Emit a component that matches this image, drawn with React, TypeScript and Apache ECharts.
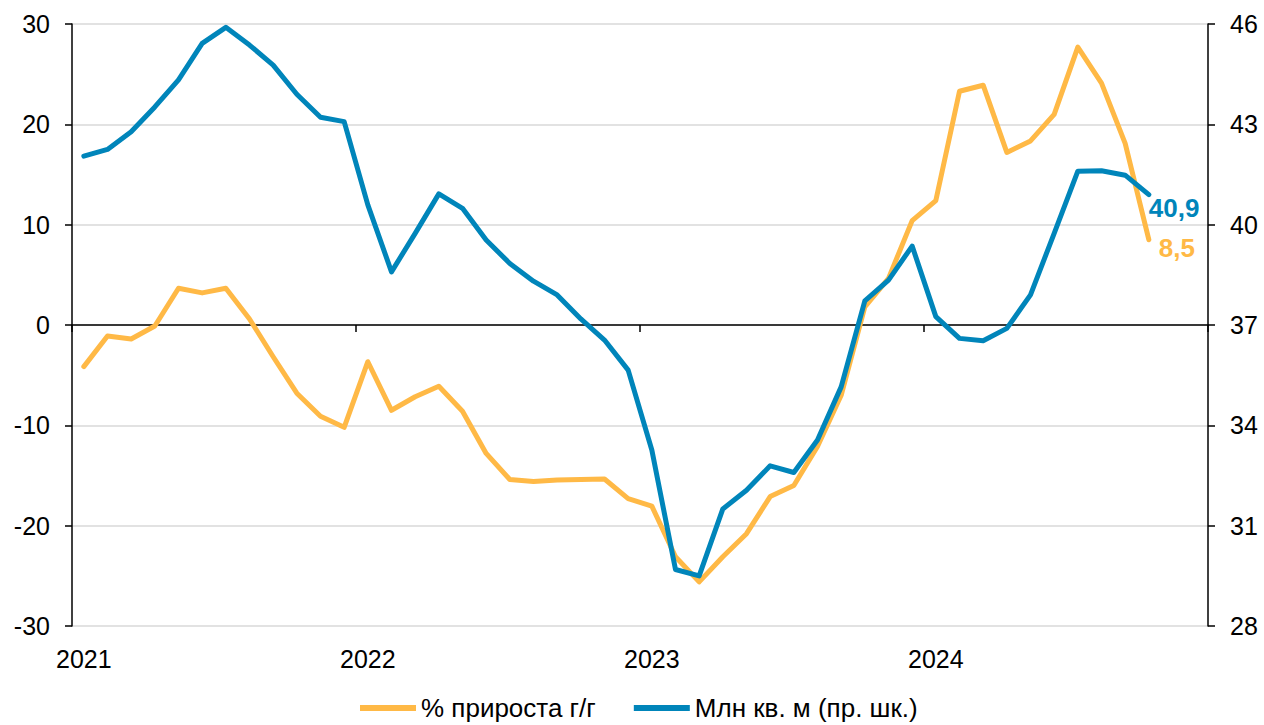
import React, { useEffect, useRef } from "react";
import * as echarts from "echarts";

const years = ["2021", "2022", "2023", "2024"];
const months = ["01", "02", "03", "04", "05", "06", "07", "08", "09", "10", "11", "12"];
const categories: string[] = [];
years.forEach((y) => months.forEach((m) => categories.push(`${y}-${m}`)));

const growthYoY = [
  -4.15, -1.1, -1.4, -0.1, 3.66, 3.2, 3.66, 0.6, -3.16, -6.8, -9.1, -10.2,
  -3.66, -8.5, -7.15, -6.1, -8.6, -12.8, -15.4, -15.6, -15.45, -15.4, -15.35, -17.3,
  -18.05, -23.1, -25.6, -23.1, -20.8, -17.1, -16.0, -12.1, -7.0, 1.8, 4.65, 10.4,
  12.4, 23.3, 23.9, 17.2, 18.35, 21.0, 27.7, 24.1, 18.1, 8.5,
];

const sqMeters = [
  42.05, 42.25, 42.78, 43.52, 44.33, 45.42, 45.9, 45.37, 44.77, 43.9, 43.21, 43.08,
  40.59, 38.59, 39.74, 40.92, 40.49, 39.54, 38.84, 38.31, 37.9, 37.18, 36.55, 35.65,
  33.26, 29.69, 29.5, 31.5, 32.06, 32.79, 32.59, 33.56, 35.15, 37.72, 38.34, 39.36,
  37.25, 36.6, 36.53, 36.9, 37.9, 39.74, 41.6, 41.61, 41.48, 40.9,
];

const seriesNames = ["% прироста г/г", "Млн кв. м (пр. шк.)"];
const leftTicks = { min: -30, max: 30, interval: 10 };
const rightTicks = { min: 28, max: 46, interval: 3 };

const ORANGE = "#FFB946";
const BLUE = "#0085BA";
const FONT = "'Liberation Sans', Arial, sans-serif";

export default function App() {
  const ref = useRef<HTMLDivElement>(null);
  useEffect(() => {
    if (!ref.current) return;
    const chart = echarts.init(ref.current, null, { renderer: "svg" });
    const fmt = (v: number) => v.toFixed(1).replace(".", ",");
    chart.setOption({
      animation: false,
      grid: { left: 72, right: 56, top: 24, bottom: 99, containLabel: false },
      textStyle: { fontFamily: FONT },
      legend: {
        left: 355,
        top: 690,
        icon: "rect",
        itemWidth: 56,
        itemHeight: 6,
        itemGap: 38,
        textStyle: { fontSize: 26, color: "#000", fontFamily: FONT },
        data: seriesNames,
      },
      xAxis: [
        {
          type: "category",
          data: categories,
          boundaryGap: true,
          position: "bottom",
          axisLine: { show: true, onZero: true, onZeroAxisIndex: 0, lineStyle: { color: "#000", width: 1.5 } },
          axisTick: { show: true, interval: 11, length: 7, lineStyle: { color: "#000", width: 1.5 } },
          axisLabel: { show: false },
          splitLine: { show: false },
        },
        {
          type: "category",
          data: categories,
          boundaryGap: true,
          position: "bottom",
          axisLine: { show: false, onZero: false },
          axisTick: { show: false },
          axisLabel: {
            show: true,
            interval: 11,
            margin: 20,
            fontSize: 25,
            color: "#000",
            fontFamily: FONT,
            formatter: (v: string) => v.slice(0, 4),
          },
          splitLine: { show: false },
        },
      ],
      yAxis: [
        {
          type: "value",
          position: "left",
          min: leftTicks.min,
          max: leftTicks.max,
          interval: leftTicks.interval,
          axisLine: { show: true, lineStyle: { color: "#000", width: 1.5 } },
          axisTick: { show: true, length: 7, lineStyle: { color: "#000", width: 1.5 } },
          axisLabel: { fontSize: 25, color: "#000", margin: 22, fontFamily: FONT },
          splitLine: { show: true, lineStyle: { color: "#D9D9D9", width: 1.5 } },
        },
        {
          type: "value",
          position: "right",
          min: rightTicks.min,
          max: rightTicks.max,
          interval: rightTicks.interval,
          axisLine: { show: true, lineStyle: { color: "#000", width: 1.5 } },
          axisTick: { show: true, length: 7, lineStyle: { color: "#000", width: 1.5 } },
          axisLabel: { fontSize: 25, color: "#000", margin: 22, fontFamily: FONT },
          splitLine: { show: false },
        },
      ],
      series: [
        {
          name: seriesNames[0],
          type: "line",
          xAxisIndex: 0,
          yAxisIndex: 0,
          data: growthYoY,
          showSymbol: false,
          symbol: "none",
          lineStyle: { color: ORANGE, width: 5, join: "round", cap: "round" },
          itemStyle: { color: ORANGE },
          endLabel: {
            show: true,
            formatter: (p: any) => fmt(p.value),
            color: ORANGE,
            fontWeight: "bold",
            fontSize: 26,
            fontFamily: FONT,
            offset: [2, 8],
          },
          z: 2,
        },
        {
          name: seriesNames[1],
          type: "line",
          xAxisIndex: 0,
          yAxisIndex: 1,
          data: sqMeters,
          showSymbol: false,
          symbol: "none",
          lineStyle: { color: BLUE, width: 5, join: "round", cap: "round" },
          itemStyle: { color: BLUE },
          endLabel: {
            show: true,
            formatter: (p: any) => fmt(p.value),
            color: BLUE,
            fontWeight: "bold",
            fontSize: 26,
            fontFamily: FONT,
            offset: [-8, 13],
          },
          z: 3,
        },
      ],
    });
    return () => chart.dispose();
  }, []);
  return (
    <div
      ref={ref}
      style={{ position: "fixed", left: 0, top: 0, width: 1264, height: 725, background: "#fff" }}
    />
  );
}
